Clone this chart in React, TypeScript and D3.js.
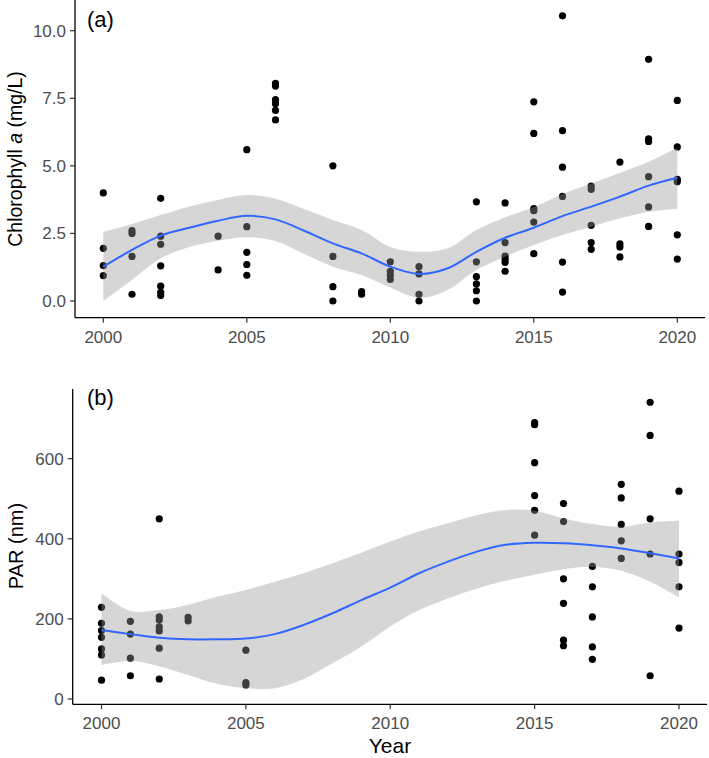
import React from "react";
import * as d3 from "d3";

// ---------- Data: panel (a) Chlorophyll a ----------
const chlYear = [
  2000, 2000, 2000, 2000,
  2001, 2001, 2001, 2001,
  2002, 2002, 2002, 2002, 2002, 2002, 2002,
  2004, 2004,
  2005, 2005, 2005, 2005, 2005,
  2006, 2006, 2006, 2006, 2006, 2006,
  2008, 2008, 2008, 2008,
  2009, 2009,
  2010, 2010, 2010, 2010,
  2011, 2011, 2011, 2011,
  2013, 2013, 2013, 2013, 2013, 2013,
  2014, 2014, 2014, 2014, 2014, 2014,
  2015, 2015, 2015, 2015, 2015, 2015,
  2016, 2016, 2016, 2016, 2016, 2016,
  2017, 2017, 2017, 2017, 2017,
  2018, 2018, 2018, 2018,
  2019, 2019, 2019, 2019, 2019, 2019,
  2020, 2020, 2020, 2020, 2020, 2020,
];
const chlValue = [
  4.0, 1.95, 1.31, 0.94,
  2.6, 2.5, 1.65, 0.25,
  3.8, 2.4, 2.1, 1.3, 0.55, 0.32, 0.2,
  2.4, 1.15,
  5.6, 2.75, 1.8, 1.35, 0.95,
  8.05, 7.95, 7.45, 7.3, 7.05, 6.7,
  5.0, 1.65, 0.53, 0.0,
  0.35, 0.25,
  1.45, 1.1, 0.95, 0.8,
  1.27, 1.0, 0.25, 0.0,
  3.67, 1.45, 0.9, 0.63, 0.38, 0.0,
  3.63, 2.16, 1.66, 1.54, 1.43, 1.1,
  7.37, 6.2, 3.42, 3.34, 2.92, 1.75,
  10.55, 6.3, 4.95, 3.87, 1.44, 0.33,
  4.25, 4.13, 2.8, 2.16, 1.91,
  5.14, 2.11, 2.0, 1.63,
  8.94, 6.0, 5.9, 4.6, 3.48, 2.76,
  7.42, 5.7, 4.5, 4.41, 2.45, 1.55,
];
const fitYears = [2000, 2001, 2002, 2003, 2004, 2005, 2006, 2007, 2008, 2009, 2010,
  2011, 2012, 2013, 2014, 2015, 2016, 2017, 2018, 2019, 2020];
const chlFit = [1.27, 1.89, 2.42, 2.71, 2.97, 3.15, 3.02, 2.6, 2.13, 1.76, 1.27,
  1.0, 1.21, 1.82, 2.34, 2.71, 3.14, 3.49, 3.86, 4.27, 4.56];
const chlUpper = [2.55, 2.85, 3.18, 3.5, 3.74, 3.92, 3.78, 3.4, 3.0, 2.63, 2.0,
  1.82, 1.95, 2.63, 3.1, 3.47, 3.96, 4.35, 4.74, 5.15, 5.67];
const chlLower = [0.0, 0.78, 1.58, 2.0, 2.23, 2.36, 2.22, 1.74, 1.27, 0.96, 0.5,
  0.12, 0.41, 1.15, 1.64, 2.07, 2.44, 2.75, 3.06, 3.3, 3.4];
const chlTicks = [0, 2.5, 5, 7.5, 10];

// ---------- Data: panel (b) PAR ----------
const parYear = [
  2000, 2000, 2000, 2000, 2000, 2000, 2000,
  2001, 2001, 2001, 2001,
  2002, 2002, 2002, 2002, 2002, 2002, 2002,
  2003, 2003,
  2005, 2005, 2005,
  2015, 2015, 2015, 2015, 2015, 2015,
  2016, 2016, 2016, 2016, 2016, 2016,
  2017, 2017, 2017, 2017, 2017,
  2018, 2018, 2018, 2018, 2018,
  2019, 2019, 2019, 2019, 2019,
  2020, 2020, 2020, 2020, 2020,
];
const parValue = [
  229, 189, 171, 154, 125, 110, 47,
  194, 162, 102, 58,
  450, 205, 197, 180, 170, 127, 50,
  204, 195,
  122, 41, 35,
  690, 685, 590, 508, 471, 409,
  488, 443, 300, 239, 147, 133,
  331, 280, 205, 130, 99,
  536, 502, 436, 395, 351,
  741, 658, 450, 362, 58,
  519, 362, 341, 280, 177,
];
const parFit = [172, 162, 153, 149, 149, 151, 162, 185, 214, 247, 278,
  314, 343, 368, 385, 390, 389, 384, 376, 364, 351];
const parUpper = [264, 220, 222, 235, 255, 272, 293, 314, 339, 365, 393,
  418, 439, 459, 472, 470, 451, 437, 430, 441, 445];
const parLower = [85, 95, 82, 60, 38, 27, 27, 50, 89, 131, 181,
  222, 251, 276, 295, 310, 324, 330, 320, 293, 254];
const parTicks = [0, 200, 400, 600];

const xTicks = [2000, 2005, 2010, 2015, 2020];

// ---------- Styles ----------
const FONT = "Arial, 'Liberation Sans', sans-serif";
const TICK_COLOR = "#4D4D4D";

type PanelProps = {
  years: number[];
  values: number[];
  fit: number[];
  upper: number[];
  lower: number[];
  yTicks: number[];
  yFmt: (v: number) => string;
  xRange: [number, number];
  yDomain: [number, number];
  yRange: [number, number];
  left: number;
  right: number;
  top: number;
  bottom: number;
  tag: string;
  tagY: number;
};

function Panel(p: PanelProps) {
  const x = d3.scaleLinear().domain([2000, 2020]).range(p.xRange);
  const y = d3.scaleLinear().domain(p.yDomain).range(p.yRange);
  const idx = d3.range(fitYears.length);
  const area = d3
    .area<number>()
    .x((i) => x(fitYears[i]))
    .y0((i) => y(p.lower[i]))
    .y1((i) => y(p.upper[i]))
    .curve(d3.curveCatmullRom);
  const line = d3
    .line<number>()
    .x((i) => x(fitYears[i]))
    .y((i) => y(p.fit[i]))
    .curve(d3.curveCatmullRom);
  return (
    <g>
      {p.values.map((v, i) => (
        <circle key={i} cx={x(p.years[i])} cy={y(v)} r={3.6} fill="#000" />
      ))}
      <path d={area(idx) || ""} fill="#999999" fillOpacity={0.4} />
      <path d={line(idx) || ""} fill="none" stroke="#3366FF" strokeWidth={2} />
      {/* axes */}
      <line x1={p.left} x2={p.left} y1={p.top} y2={p.bottom} stroke="#000" strokeWidth={1.3} />
      <line x1={p.left} x2={p.right} y1={p.bottom} y2={p.bottom} stroke="#000" strokeWidth={1.3} />
      {p.yTicks.map((t) => (
        <g key={"y" + t}>
          <line x1={p.left - 5} x2={p.left} y1={y(t)} y2={y(t)} stroke="#333" strokeWidth={1.2} />
          <text
            x={p.left - 9}
            y={y(t)}
            dy="0.35em"
            textAnchor="end"
            fontSize={17}
            fill={TICK_COLOR}
            fontFamily={FONT}
          >
            {p.yFmt(t)}
          </text>
        </g>
      ))}
      {xTicks.map((t) => (
        <g key={"x" + t}>
          <line x1={x(t)} x2={x(t)} y1={p.bottom} y2={p.bottom + 5} stroke="#333" strokeWidth={1.2} />
          <text
            x={x(t)}
            y={p.bottom + 25}
            textAnchor="middle"
            fontSize={17}
            fill={TICK_COLOR}
            fontFamily={FONT}
          >
            {t}
          </text>
        </g>
      ))}
      <text x={87} y={p.tagY} fontSize={22} fill="#000" fontFamily={FONT}>
        {p.tag}
      </text>
    </g>
  );
}

export default function App() {
  return (
    <svg
      width={709}
      height={758}
      style={{ position: "absolute", left: 0, top: 0, background: "#fff" }}
    >
      <rect width={709} height={758} fill="#fff" />
      <Panel
        years={chlYear}
        values={chlValue}
        fit={chlFit}
        upper={chlUpper}
        lower={chlLower}
        yTicks={chlTicks}
        yFmt={(v) => d3.format(".1f")(v)}
        xRange={[103.3, 677.3]}
        yDomain={[0, 10]}
        yRange={[301, 30.7]}
        left={75}
        right={705}
        top={0}
        bottom={317.7}
        tag="(a)"
        tagY={27}
      />
      <Panel
        years={parYear}
        values={parValue}
        fit={parFit}
        upper={parUpper}
        lower={parLower}
        yTicks={parTicks}
        yFmt={(v) => String(v)}
        xRange={[101.5, 679]}
        yDomain={[0, 600]}
        yRange={[699, 458.7]}
        left={72.7}
        right={707}
        top={389}
        bottom={704.3}
        tag="(b)"
        tagY={405}
      />
      <text
        transform="translate(22,159) rotate(-90)"
        textAnchor="middle"
        fontSize={19.5}
        fill="#000"
        fontFamily={FONT}
      >
        Chlorophyll <tspan fontStyle="italic">a</tspan> (mg/L)
      </text>
      <text
        transform="translate(23,546) rotate(-90)"
        textAnchor="middle"
        fontSize={20}
        fill="#000"
        fontFamily={FONT}
      >
        PAR (nm)
      </text>
      <text x={390} y={753} textAnchor="middle" fontSize={21} fill="#000" fontFamily={FONT}>
        Year
      </text>
    </svg>
  );
}
